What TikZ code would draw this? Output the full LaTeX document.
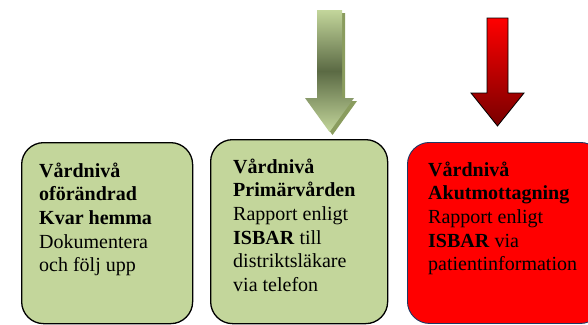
\documentclass[tikz,border=0pt]{standalone}
\usepackage{fontspec}
\setmainfont{Liberation Serif}
\definecolor{lgreen}{HTML}{C3D69B}
\definecolor{dolive}{HTML}{5B6A44}
\definecolor{solive}{HTML}{8A9C5E}
\definecolor{navyb}{HTML}{1F3864}
\definecolor{dred}{HTML}{780000}
\begin{document}
\begin{tikzpicture}[x=1pt,y=-1pt,
  lvlbox/.style={rounded corners=22pt, anchor=north west, inner sep=0pt},
  greenbox/.style={lvlbox, draw=black, fill=lgreen, line width=1.3pt},
  redbox/.style={lvlbox, draw=navyb, fill=red, line width=0.9pt},
  lvltext/.style={anchor=north west, inner sep=0pt, align=left,
    font=\fontsize{20}{23.6}\selectfont, text=black}]
\useasboundingbox (0,0) rectangle (588,324);
\clip (0,0) rectangle (588,324);

% boxes
\node[greenbox, minimum width=171pt, minimum height=181pt] (b1) at (21,142) {};
\node[greenbox, minimum width=177pt, minimum height=184pt] (b2) at (210,139) {};
\node[redbox, minimum width=195pt, minimum height=181pt] (b3) at (407,142) {};

% texts
\node[lvltext] (t1) at (39,160.5) {\strut\textbf{Vårdnivå}\\\textbf{oförändrad}\\\textbf{Kvar hemma}\\Dokumentera\\och följ upp};
\node[lvltext] (t2) at (233,156.5) {\strut\textbf{Vårdnivå}\\\textbf{Primärvården}\\Rapport enligt\\\textbf{ISBAR} till\\distriktsläkare\\via telefon};
\node[lvltext] (t3) at (428,159.5) {\strut\textbf{Vårdnivå}\\\textbf{Akutmottagning}\\Rapport enligt\\\textbf{ISBAR} via\\patientinformation};

% green arrow (shadow + shaded body)
\fill[solive] (320,13) -- (345,13) -- (345,101) -- (357,101) -- (332.5,135) -- (308,101) -- (320,101) -- cycle;
\shade[top color=lgreen, bottom color=lgreen, middle color=dolive]
  (317,10) -- (342,10) -- (342,98) -- (354,98) -- (329.5,132) -- (305,98) -- (317,98) -- cycle;

% red arrow
\shade[top color=red, bottom color=dred, draw=black, line width=0.8pt]
  (487,18) -- (508,18) -- (508,93) -- (524,93) -- (497.5,126) -- (471,93) -- (487,93) -- cycle;
\end{tikzpicture}
\end{document}
